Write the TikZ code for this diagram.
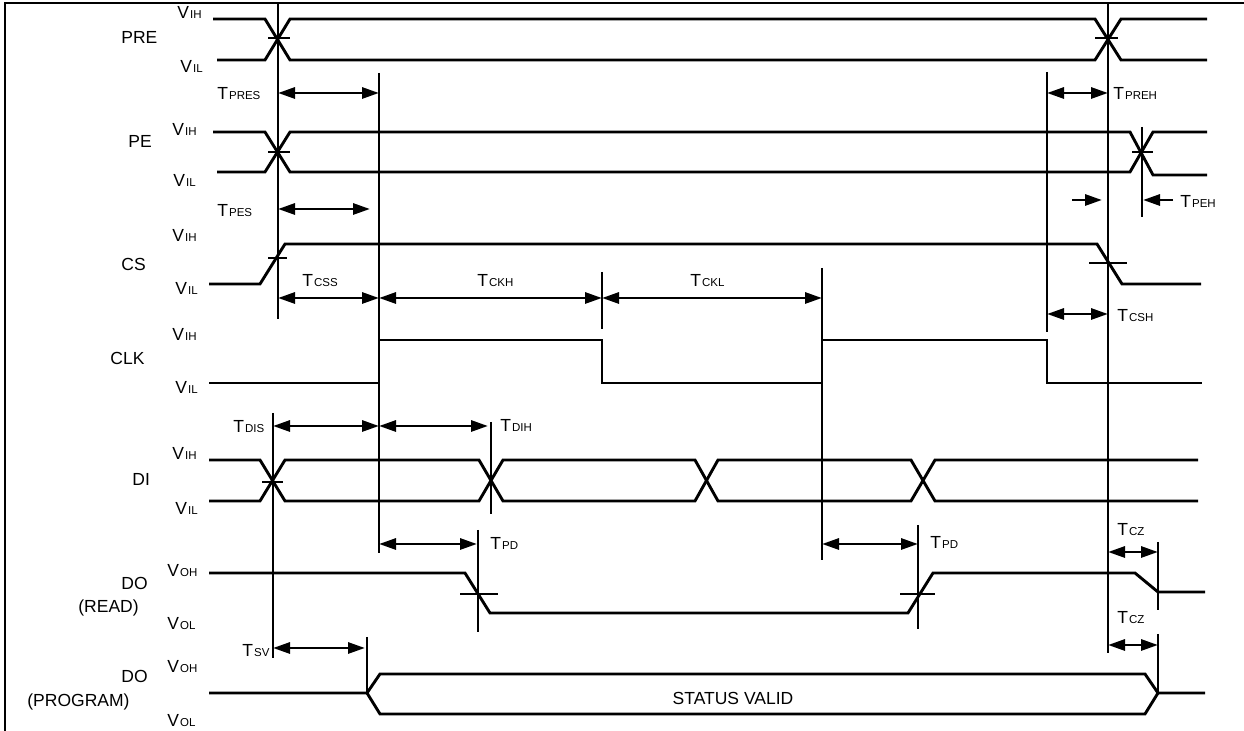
\documentclass[tikz,border=0pt]{standalone}
\usepackage{fontspec}
\setmainfont{Liberation Sans}
\usetikzlibrary{arrows.meta}
\newcommand{\lbl}[2]{#1\kern0.5pt{\fontsize{5.75pt}{6pt}\selectfont #2}}
\begin{document}
\begin{tikzpicture}[x=0.5pt,y=-0.5pt,
  sig/.style={line width=1.45pt},
  tickmark/.style={line width=1.45pt},
  guide/.style={line width=1.45pt},
  dim/.style={line width=1.45pt,{Triangle[length=8.5pt,width=5.5pt]}-{Triangle[length=8.5pt,width=5.5pt]}},
  dimr/.style={line width=1.45pt,-{Triangle[length=8.5pt,width=5.5pt]}},
  txt/.style={anchor=base west, inner sep=0pt, font=\fontsize{8.75pt}{10pt}\selectfont}]
\useasboundingbox (0,0) rectangle (1244,731);
% frame
\draw[line width=1.45pt] (5,731) -- (5,3) -- (1244,3);

% ---- signal names
\node[txt] (nPRE) at (121,44) {PRE};
\node[txt] (nPE) at (128,148) {PE};
\node[txt] (nCS) at (121,271) {CS};
\node[txt] (nCLK) at (110,365) {CLK};
\node[txt] (nDI) at (132,486) {DI};
\node[txt] (nDO1) at (121,590) {DO};
\node[txt] (nREAD) at (78,613) {(READ)};
\node[txt] (nDO2) at (121,683) {DO};
\node[txt] (nPROG) at (27,707) {(PROGRAM)};

% ---- level labels
\node[txt] (v1) at (177,19) {\lbl{V}{IH}};
\node[txt] (v2) at (180,73) {\lbl{V}{IL}};
\node[txt] (v3) at (172,136) {\lbl{V}{IH}};
\node[txt] (v4) at (173,187) {\lbl{V}{IL}};
\node[txt] (v5) at (172,242) {\lbl{V}{IH}};
\node[txt] (v6) at (175,295) {\lbl{V}{IL}};
\node[txt] (v7) at (172,341) {\lbl{V}{IH}};
\node[txt] (v8) at (175,394) {\lbl{V}{IL}};
\node[txt] (v9) at (172,460) {\lbl{V}{IH}};
\node[txt] (v10) at (175,515) {\lbl{V}{IL}};
\node[txt] (v11) at (167,577) {\lbl{V}{OH}};
\node[txt] (v12) at (167,630) {\lbl{V}{OL}};
\node[txt] (v13) at (167,673) {\lbl{V}{OH}};
\node[txt] (v14) at (167,727) {\lbl{V}{OL}};

% ---- timing labels
\node[txt] (tPRES) at (217,100) {\lbl{T}{PRES}};
\node[txt] (tPES) at (217,217) {\lbl{T}{PES}};
\node[txt] (tPREH) at (1113,100) {\lbl{T}{PREH}};
\node[txt] (tPEH) at (1180,208) {\lbl{T}{PEH}};
\node[txt] (tCSS) at (302,287) {\lbl{T}{CSS}};
\node[txt] (tCKH) at (477,287) {\lbl{T}{CKH}};
\node[txt] (tCKL) at (690,287) {\lbl{T}{CKL}};
\node[txt] (tCSH) at (1117,322) {\lbl{T}{CSH}};
\node[txt] (tDIS) at (233,433) {\lbl{T}{DIS}};
\node[txt] (tDIH) at (500,432) {\lbl{T}{DIH}};
\node[txt] (tPD1) at (490,550) {\lbl{T}{PD}};
\node[txt] (tPD2) at (930,549) {\lbl{T}{PD}};
\node[txt] (tCZ1) at (1117,536) {\lbl{T}{CZ}};
\node[txt] (tCZ2) at (1117,624) {\lbl{T}{CZ}};
\node[txt] (tSV) at (242,657) {\lbl{T}{SV}};
\node[anchor=base, inner sep=0pt, font=\fontsize{8.75pt}{10pt}\selectfont] (sv) at (733,705) {STATUS VALID};

% ---- vertical guide lines
\draw[guide] (278,3) -- (278,319);
\draw[guide] (1108,3) -- (1108,653);
\draw[guide] (379,73) -- (379,553);
\draw[guide] (1047,72) -- (1047,332);
\draw[guide] (1142,127) -- (1142,217);
\draw[guide] (602,272) -- (602,329);
\draw[guide] (822,268) -- (822,560);
\draw[guide] (273,413) -- (273,658);
\draw[guide] (491,422) -- (491,514);
\draw[guide] (478,530) -- (478,632);
\draw[guide] (918,525) -- (918,629);
\draw[guide] (1158,542) -- (1158,610);
\draw[guide] (1158,634) -- (1158,693);
\draw[guide] (367,637) -- (367,693);

% ---- PRE
\draw[sig] (213,19) -- (265,19) -- (290,60) -- (1095,60) -- (1121,19) -- (1207,19);
\draw[sig] (217,60) -- (265,60) -- (290,19) -- (1095,19) -- (1121,60) -- (1207,60);
\draw[tickmark] (268,38) -- (290,38);
\draw[tickmark] (1095,38) -- (1118,38);

% ---- PE
\draw[sig] (213,132) -- (265,132) -- (290,172) -- (1130,172) -- (1153,132) -- (1207,132);
\draw[sig] (217,172) -- (265,172) -- (290,132) -- (1130,132) -- (1153,175) -- (1207,175);
\draw[tickmark] (268,152) -- (290,152);
\draw[tickmark] (1132,152) -- (1153,152);

% ---- CS
\draw[sig] (209,284) -- (260,284) -- (285,244) -- (1097,244) -- (1122,284) -- (1201,284);
\draw[tickmark] (268,258) -- (287,258);
\draw[tickmark] (1089,263) -- (1127,263);

% ---- CLK
\draw[sig] (209,383) -- (379,383) -- (379,340) -- (602,340) -- (602,383) -- (822,383) -- (822,340) -- (1047,340) -- (1047,383) -- (1202,383);

% ---- DI
\draw[sig] (209,460) -- (260,460) -- (285,501) -- (479,501) -- (503,460) -- (695,460) -- (718,501) -- (911,501) -- (935,460) -- (1198,460);
\draw[sig] (209,501) -- (260,501) -- (285,460) -- (479,460) -- (503,501) -- (695,501) -- (718,460) -- (911,460) -- (935,501) -- (1198,501);
\draw[tickmark] (262,482) -- (283,482);

% ---- DO (READ)
\draw[sig] (209,573) -- (465,573) -- (490,613) -- (908,613) -- (933,573) -- (1135,573) -- (1158,592) -- (1205,592);
\draw[tickmark] (460,594) -- (498,594);
\draw[tickmark] (900,594) -- (935,594);

% ---- DO (PROGRAM)
\draw[sig] (209,693) -- (367,693) -- (380,674) -- (1145,674) -- (1158,693) -- (1205,693);
\draw[sig] (367,693) -- (380,714) -- (1145,714) -- (1158,693);

% ---- dimension arrows
\draw[dim] (278,93) -- (379,93);
\draw[dim] (278,209) -- (370,209);
\draw[dim] (1047,93) -- (1108,93);
\draw[dimr] (1072,200) -- (1102,200);
\draw[dimr] (1173,200) -- (1143,200);
\draw[dim] (278,298) -- (379,298);
\draw[dim] (379,298) -- (602,298);
\draw[dim] (602,298) -- (822,298);
\draw[dim] (1047,314) -- (1108,314);
\draw[dim] (273,426) -- (379,426);
\draw[dim] (379,426) -- (488,426);
\draw[dim] (379,544) -- (477,544);
\draw[dim] (822,544) -- (918,544);
\draw[dim] (1108,552) -- (1158,552);
\draw[dim] (1108,645) -- (1158,645);
\draw[dim] (273,648) -- (365,648);
\end{tikzpicture}
\end{document}
